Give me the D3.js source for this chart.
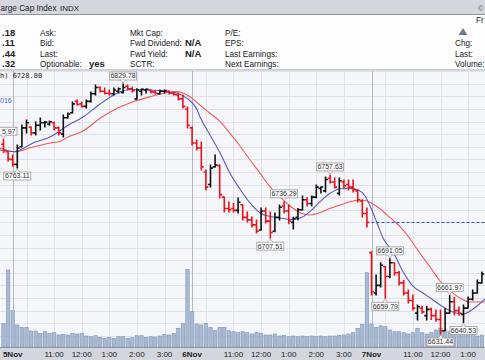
<!DOCTYPE html>
<html><head><meta charset="utf-8">
<script src="https://cdn.jsdelivr.net/npm/d3@7"></script>
<style>body{margin:0;background:#fff;overflow:hidden}svg{display:block}</style>
</head><body><svg id="c" width="485" height="360"></svg>
<script>
// ---- data (10-minute bars, index 0 = last bar of 2 Nov) ----
const opens  = [6782,6776,6770,6766,6780,6795,6795.5,6791,6797,6799,6798,6799,6795,6790,6803,6807,6816,6814,6812,6816,6822,6827,6824,6822.5,6822,6824,6823,6828,6826,6818,6824,6825,6825,6823.5,6822,6824,6824,6822.5,6821,6818,6810,6795,6783,6779,6760,6750,6764,6765,6740,6731,6731,6729.5,6734,6724,6722,6718,6714,6729,6721,6713,6724,6733,6729,6720,6724,6730,6738,6735,6740,6747,6745,6755,6752,6743,6752,6750,6748,6745,6737,6727,6696,6664,6670,6685,6677,6688,6680,6672,6664,6658,6648,6652,6646,6651,6646,6643,6634,6648,6657,6650,6647,6652,6659,6664,6672];
const highs  = [6785.97,6776.1,6773.5,6781.4,6797.3,6801.2,6795.7,6799.6,6802.8,6800,6800.5,6799.6,6795.7,6805.2,6806.8,6815.5,6817.1,6815.5,6817.1,6823.4,6829,6827.4,6826.6,6825,6826.6,6826.6,6829.78,6829,6827.4,6826,6825.8,6825.8,6825.2,6824.2,6825,6825,6824.2,6823.4,6822.6,6821.1,6811.5,6795.7,6785.4,6783.8,6761.5,6765.5,6773.5,6765.5,6740.2,6736.2,6735,6739.4,6734,6728.2,6724.3,6721.9,6731.4,6731.4,6728.2,6727.4,6733.8,6736.29,6733.8,6724,6731,6740.9,6739.5,6741,6749.7,6748.1,6756,6757.63,6755.2,6755.2,6753.6,6753.6,6753.6,6745.7,6737.8,6731.4,6696.6,6678.2,6688,6685,6691.05,6688,6681,6674,6666.3,6662.4,6654.4,6653.5,6653.5,6652,6650.5,6650.5,6651.5,6661.97,6660.5,6652.8,6654.4,6660.8,6666.3,6674.3,6680.6];
const lows   = [6775.5,6768.7,6764.5,6763.11,6780,6790.9,6789.3,6789.3,6793.3,6795.7,6797,6793.3,6789.3,6787.7,6802.8,6806.8,6813.1,6811.5,6810.7,6815.5,6821.1,6823.4,6821.8,6821.1,6821.1,6822.6,6822.6,6825,6823.4,6817.9,6821.1,6822.6,6822.6,6821.8,6821.8,6822.6,6821.8,6821.1,6817.1,6810.7,6794.9,6781.4,6777.4,6761.5,6745.7,6748.1,6763.9,6739.4,6728.2,6728.2,6728.2,6727.4,6721.9,6720.3,6716.3,6711.6,6714,6719.5,6707.51,6712.5,6721.9,6727.4,6719,6714.8,6722,6729.8,6733,6733,6739.5,6743.3,6744,6751.2,6747.3,6741.7,6747.3,6745.7,6744.1,6736.2,6724.3,6716.3,6662.4,6662.4,6668.7,6659.79,6676,6678,6670.3,6662.4,6656,6650.5,6642.5,6648,6642.5,6643,6641.5,6631.44,6634,6648,6646.5,6646.5,6640.53,6652,6658.4,6664,6672];
const closes = [6777,6770,6766,6779,6795,6799,6791,6797,6799,6799.5,6799.8,6795,6791,6803,6806,6814,6813.5,6812,6816,6822,6827,6824,6822.5,6822,6825,6826,6827,6826,6824.5,6825,6825.5,6825.6,6823.5,6822.5,6824,6824.5,6822.5,6821.5,6818,6812,6797,6783,6779,6764,6748,6763,6765.5,6742,6731,6730,6729.5,6736,6724,6722,6718,6713,6729,6721,6712,6724,6732,6729,6721,6723,6730,6738,6735,6740,6748,6748.1,6754,6752,6748,6753,6749,6748,6746,6738,6727,6720,6665,6670,6686,6677,6688,6680,6672,6664,6658,6652,6653,6649,6651,6646,6643,6634,6648,6657,6650,6648,6652,6659,6664,6672,6679];
const volumes = [23.7,77,36.3,22,19.7,19.7,16,16,13.7,15.3,13.7,14.3,12,12.7,12,13.7,13,13.7,11,10.3,11.3,9.7,8.7,9.7,8.7,10.3,10.3,8.7,9.3,11.3,11.3,9.7,10.3,10,11,12.7,12,13.7,18.7,23.7,77.7,35.3,23,22,23.7,19.7,16.3,19.7,19.7,16.3,15.3,14.3,15.3,14.3,13,14.3,13.7,12,12,13,11,11.7,10.3,11,10.3,11,10.3,11,10.3,11,10.3,11,11,11.7,12,13,14.3,18.7,22.7,74.3,23,19.7,21.3,20.3,17,15.3,15.3,14.3,13,14.3,18.7,14.3,13,14.3,17,18.7,17,15.3,13.7,13,14.3,13,13.7,11,12];
// moving averages (bar position, value)
const maFastIdx = [-0.8,2.5,6.4,10.1,13.8,17.3,21,23.2,25.3,27.5,31.9,35.5,37.7,39.9,42.1,42.7,44.9,47.1,49.2,51.4,53.6,55.8,57.9,60.1,62.3,64.5,66.6,68.8,71,73.2,75.3,77.1,78.6,79.7,81.2,82.5,84.7,86.9,89,91.2,93.4,95.5,97.7,99.9,102.1,104.7];
const maFastVal = [6777.4,6776.1,6783.0,6787.7,6796.5,6803.6,6813.9,6819.5,6823.4,6825.4,6825.0,6823.7,6822.4,6818.4,6809.2,6803.8,6789.3,6775.0,6759.2,6746.5,6735.4,6727.4,6724.7,6723.5,6722.3,6723.5,6728.5,6736.4,6743.1,6746.7,6747.0,6745.7,6740.9,6733.0,6719.5,6707.6,6696.5,6680.6,6669.5,6664.0,6658.4,6653.1,6648.9,6647.3,6651.3,6659.2];
const maSlowIdx = [-0.8,2.5,6.4,10.1,12.3,13.8,17.3,21,24.7,28.2,31.9,35.5,37.7,39,40.5,42.7,44.9,47.1,49.2,51.4,53.6,55.8,57.9,60.1,62.3,64.5,66.6,68.8,71,73.2,75.3,77.5,79,81.9,84,86.2,88.4,90.5,92.7,94.9,97.1,99.2,101.4,104.7];
const maSlowVal = [6779.0,6776.1,6779.8,6783.0,6784.2,6787.3,6792.5,6802.6,6810.5,6815.7,6819.7,6822.9,6823.7,6822.6,6819.7,6813.1,6806.5,6799.9,6790.7,6780.6,6769.5,6758.9,6748.3,6740.4,6733.0,6727.7,6725.9,6727.7,6731.2,6733.8,6736.4,6737.8,6737.0,6730.6,6723.9,6716.6,6706.8,6695.7,6684.8,6673.5,6665.6,6660.0,6656.8,6656.8];
const prevClose = 6720.06;
// swing labels: bar index and kind
const labelIdx  = [0,3,26,58,61,71,84,83,95,97,100];
const labelKind = ["H","L","H","L","H","H","H","L","L","H","L"];
// time axis
const tickIdx   = [2,5,11,17,23,29,35,41,44,50,56,62,68,74,80,83,89,95,101];
const tickLabel = ["5Nov","","11:00","12:00","1:00","2:00","3:00","6Nov","","11:00","12:00","1:00","2:00","3:00","7Nov","","11:00","12:00","1:00"];
const dayIdx = [2,41,80];
const priceGrid = d3.range(6620, 6850, 10);
// quote panel (visible parts)
const quoteVals = [".18",".11",".44",".32"];
const col2 = ["Ask:","Bid:","Last:","Optionable:"];
const col3 = ["Mkt Cap:","Fwd Dividend:","Fwd Yield:","SCTR:"];
const col4 = ["P/E:","EPS:","Last Earnings:","Next Earnings:"];
const col5 = ["Chg:","Last:","Volume:"];

// ---- drawing ----
const W = 485, H = 360;
const svg = d3.select("#c");
const FONT = "Liberation Sans, Arial, sans-serif";
const plotTop = 70.5, plotBot = 347;

const x = d3.scaleLinear().domain([0, 104]).range([3.5, 3.5 + 104 * 4.6]);
const y = d3.scaleLinear().domain([6631.44, 6829.78]).range([334, 84]);
const yv = d3.scaleLinear().domain([0, 100]).range([plotBot, plotBot - 100]);

// title bar
svg.append("rect").attr("x",0).attr("y",0).attr("width",W).attr("height",14).attr("fill","#d4d7de");
svg.append("line").attr("x1",0).attr("x2",W).attr("y1",14.5).attr("y2",14.5).attr("stroke","#8e939c").attr("stroke-width",1);
svg.append("text").attr("x",0.5).attr("y",11).attr("font-family",FONT).attr("font-size",8.2).attr("fill","#222").text("arge Cap Index");
svg.append("text").attr("x",60).attr("y",11).attr("font-family",FONT).attr("font-size",8).attr("fill","#222").text("INDX");
svg.append("text").attr("x",478).attr("y",10.5).attr("font-family",FONT).attr("font-size",7).attr("fill","#555").text("©");

// info panel
svg.append("rect").attr("x",0).attr("y",15).attr("width",W).attr("height",55).attr("fill","#fdfdfe");
const rows = [35.5, 46, 56.5, 67];
const info = svg.append("g").attr("font-family",FONT).attr("font-size",8.2).attr("fill","#222");
rows.forEach((ry,i)=>{
  info.append("text").attr("x",2).attr("y",ry).attr("font-weight","bold").attr("font-size",9.5).text(quoteVals[i]);
  info.append("text").attr("x",40).attr("y",ry).text(col2[i]);
  info.append("text").attr("x",130).attr("y",ry).text(col3[i]);
  info.append("text").attr("x",225).attr("y",ry).text(col4[i]);
});
info.append("text").attr("x",89).attr("y",rows[3]).attr("font-weight","bold").attr("font-size",9.5).text("yes");
info.append("text").attr("x",185).attr("y",rows[1]).attr("font-weight","bold").attr("font-size",9.5).text("N/A");
info.append("text").attr("x",185).attr("y",rows[2]).attr("font-weight","bold").attr("font-size",9.5).text("N/A");
info.append("text").attr("x",476).attr("y",22.5).text("Fr");
info.append("path").attr("d","M458.5,35 L463,28 L467.5,35 Z").attr("fill","#6b7a8f");
col5.forEach((t,i)=>info.append("text").attr("x",455).attr("y",rows[i+1]).text(t));
svg.append("line").attr("x1",0).attr("x2",W).attr("y1",70).attr("y2",70).attr("stroke","#9a9ea6").attr("stroke-width",1.2);

// plot background
svg.append("defs").append("clipPath").attr("id","pc").append("rect").attr("x",0).attr("y",plotTop).attr("width",W).attr("height",plotBot-plotTop);
const plot = svg.append("g").attr("clip-path","url(#pc)");
plot.append("rect").attr("x",0).attr("y",plotTop).attr("width",W).attr("height",plotBot-plotTop).attr("fill","#f5f6fa");

// grid
plot.selectAll(".hg").data(priceGrid).join("line")
  .attr("x1",0).attr("x2",W).attr("y1",d=>Math.round(y(d))+0.5).attr("y2",d=>Math.round(y(d))+0.5)
  .attr("stroke","#dfe2e8").attr("stroke-width",1);
plot.selectAll(".vg").data(tickIdx.filter(k=>!dayIdx.includes(k))).join("line")
  .attr("x1",d=>Math.round(x(d))+0.5).attr("x2",d=>Math.round(x(d))+0.5).attr("y1",plotTop).attr("y2",plotBot)
  .attr("stroke","#dfe2e8").attr("stroke-width",1);
plot.selectAll(".dg").data(dayIdx).join("line")
  .attr("x1",d=>Math.round(x(d))+0.5).attr("x2",d=>Math.round(x(d))+0.5).attr("y1",plotTop).attr("y2",plotBot)
  .attr("stroke","#b3b7bf").attr("stroke-width",1);

// volume
plot.selectAll(".vol").data(volumes).join("rect")
  .attr("x",(d,i)=>x(i)-1.7).attr("width",3.4)
  .attr("y",d=>yv(d)).attr("height",d=>plotBot-yv(d))
  .attr("fill","#a9bbd4").attr("stroke","#7f95b4").attr("stroke-width",0.6);

// header texts in plot
plot.append("text").attr("x",0).attr("y",78).attr("font-family","DejaVu Sans Mono, monospace").attr("font-size",7).attr("fill","#222").text("h) 6728.80");
plot.append("text").attr("x",0).attr("y",103).attr("font-family",FONT).attr("font-size",7).attr("fill","#3d6fc0").text("016");

// moving averages
const line = d3.line().x(d=>x(d[0])).y(d=>y(d[1])).curve(d3.curveMonotoneX);
plot.append("path").attr("d",line(maSlowIdx.map((k,i)=>[k,maSlowVal[i]]))).attr("fill","none").attr("stroke","#f05a5a").attr("stroke-width",1.1);
plot.append("path").attr("d",line(maFastIdx.map((k,i)=>[k,maFastVal[i]]))).attr("fill","none").attr("stroke","#5a5ab8").attr("stroke-width",1.1);

// previous close
plot.append("line").attr("x1",x(80)).attr("x2",W).attr("y1",Math.round(y(prevClose))+0.5).attr("y2",Math.round(y(prevClose))+0.5)
  .attr("stroke","#3344ee").attr("stroke-width",1).attr("stroke-dasharray","3,2");

// OHLC bars
const bars = plot.append("g");
closes.forEach((c,i)=>{
  const ref = i===0 ? opens[0] : closes[i-1];
  const col = c < ref ? "#e8141a" : "#111";
  const g = bars.append("g").attr("stroke",col).attr("stroke-width",1.6);
  const xi = x(i);
  g.append("line").attr("x1",xi).attr("x2",xi).attr("y1",y(highs[i])-0.5).attr("y2",y(lows[i])+0.5);
  g.append("line").attr("x1",xi-2.4).attr("x2",xi).attr("y1",y(opens[i])).attr("y2",y(opens[i]));
  g.append("line").attr("x1",xi).attr("x2",xi+2.4).attr("y1",y(c)).attr("y2",y(c));
});

// swing labels (a label running off the left edge shows only its visible tail, as in the source)
const lab = plot.append("g").attr("font-family",FONT).attr("font-size",7);
labelIdx.forEach((k,j)=>{
  const isH = labelKind[j]==="H";
  const v = isH ? highs[k] : lows[k];
  const cx = x(k), py = y(v);
  const w = 27, h = 8;
  const left = cx - w/2;
  const by = isH ? py - 4 - h : py + 4;
  lab.append("rect").attr("x",left).attr("y",by).attr("width",w).attr("height",h)
    .attr("fill","#fbfbfb").attr("stroke","#9a9a9a").attr("stroke-width",0.8);
  const ty = isH ? by + h : by;
  const tip = isH ? py - 1 : py + 1;
  lab.append("path").attr("d",`M${cx-2.5},${ty} L${cx},${tip} L${cx+2.5},${ty}`).attr("fill","#fbfbfb").attr("stroke","#9a9a9a").attr("stroke-width",0.8);
  let t = v.toFixed(2);
  if (left < 0) {
    const hidden = Math.ceil(-left / 3.9);
    t = t.slice(hidden);
    lab.append("text").attr("x",left + w - 1.5).attr("y",by+6.4).attr("text-anchor","end").attr("fill","#333").text(t);
  } else {
    lab.append("text").attr("x",cx).attr("y",by+6.4).attr("text-anchor","middle").attr("fill","#333").text(t);
  }
});

// time axis strip
svg.append("rect").attr("x",0).attr("y",plotBot).attr("width",W).attr("height",H-plotBot).attr("fill","#d3d6dd");
svg.append("line").attr("x1",0).attr("x2",W).attr("y1",plotBot+0.5).attr("y2",plotBot+0.5).attr("stroke","#8e939c");
svg.append("g").selectAll("text").data(tickIdx.map((k,i)=>({k,t:tickLabel[i]})).filter(d=>d.t)).join("text")
  .attr("x",d=>x(d.k)).attr("y",356.5).attr("text-anchor","middle")
  .attr("font-family",FONT).attr("font-size",8).attr("fill","#222")
  .attr("font-weight",d=>dayIdx.includes(d.k)?"bold":"normal").text(d=>d.t);
</script></body></html>
